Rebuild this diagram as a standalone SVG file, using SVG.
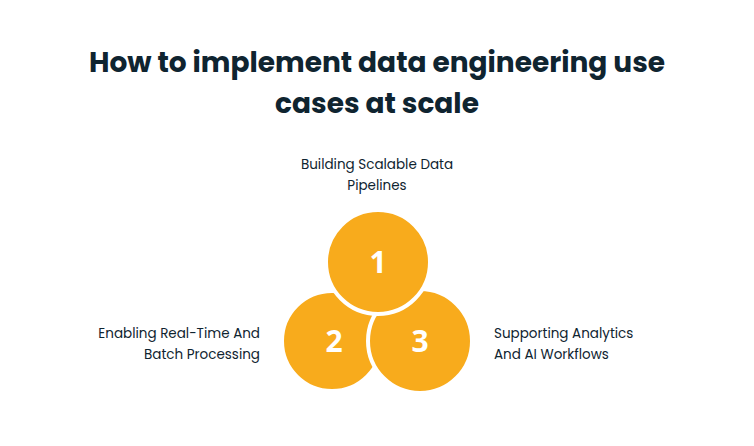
<svg xmlns="http://www.w3.org/2000/svg" width="754" height="446" viewBox="0 0 754 446">
<style>
.t{font-family:Poppins,"Noto Sans",sans-serif;fill:#0f2430}
.h{font-size:28px;font-weight:700}
.l{font-size:13.5px}
.c{fill:#f8ab1c;stroke:#fff;stroke-width:4}
.n{font-family:"Noto Sans",sans-serif;font-size:30px;font-weight:700;fill:#fff}
</style>
<rect width="754" height="446" fill="#fff"/>
<text class="t h" x="377" y="72" text-anchor="middle">How to implement data engineering use</text>
<text class="t h" x="377" y="113" text-anchor="middle">cases at scale</text>
<g id="connectors"/>
<g id="node2"><circle class="c" cx="332" cy="341" r="50"/><text class="n" x="334" y="352" text-anchor="middle">2</text></g>
<g id="node3"><circle class="c" cx="420" cy="341" r="52"/><text class="n" x="420" y="352" text-anchor="middle">3</text></g>
<g id="node1"><circle class="c" cx="378" cy="262" r="52"/><text class="n" x="378" y="273" text-anchor="middle">1</text></g>
<g id="label1"><text class="t l" x="377" y="169" text-anchor="middle">Building Scalable Data</text><text class="t l" x="377" y="190" text-anchor="middle">Pipelines</text></g>
<g id="label2"><text class="t l" x="260" y="338" text-anchor="end">Enabling Real-Time And</text><text class="t l" x="260" y="359" text-anchor="end">Batch Processing</text></g>
<g id="label3"><text class="t l" x="494" y="338">Supporting Analytics</text><text class="t l" x="494" y="359">And AI Workflows</text></g>
</svg>
